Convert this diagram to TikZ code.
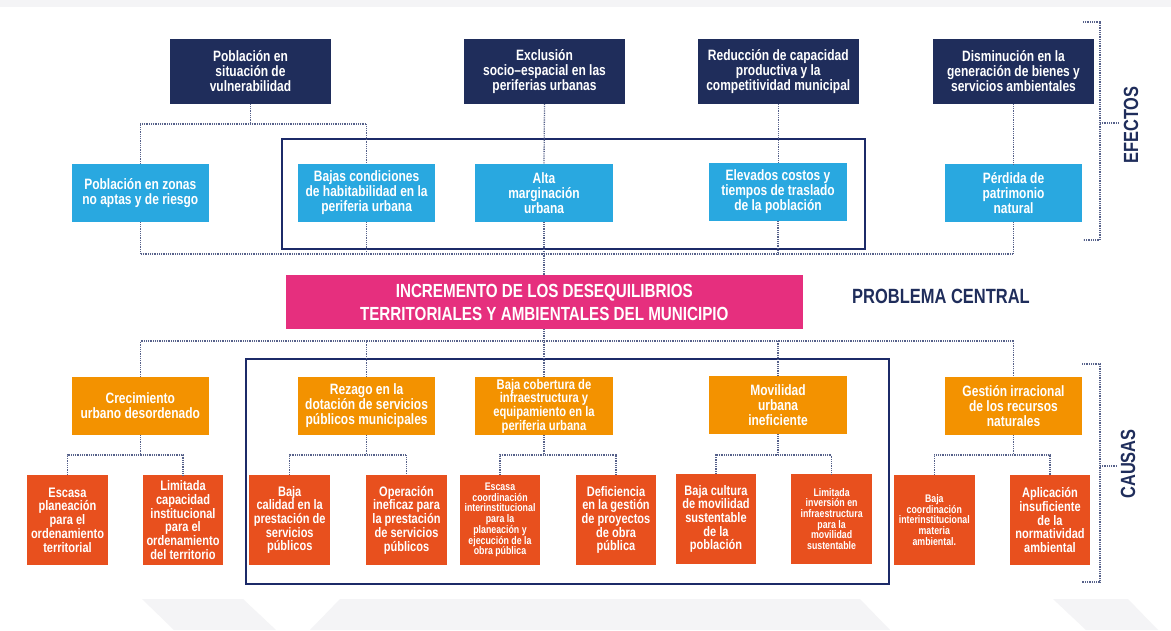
\documentclass[tikz,border=0pt]{standalone}
\usepackage{fontspec}
\setmainfont{Liberation Sans}[FakeStretch=0.8]
\definecolor{navy}{HTML}{1F2D5B}
\definecolor{lblue}{HTML}{29A8E0}
\definecolor{amber}{HTML}{F39200}
\definecolor{redor}{HTML}{E8501E}
\definecolor{pinkc}{HTML}{E62F7E}
\definecolor{framec}{HTML}{1C2A68}
\definecolor{dotc}{HTML}{56618A}
\definecolor{bgc}{HTML}{F4F4F6}
\begin{document}
\begin{tikzpicture}[x=1pt,y=-1pt,
  box/.style={rectangle, inner sep=0pt, align=center, text=white, font=\bfseries\fontsize{15}{15}\selectfont},
  navybox/.style={box, fill=navy, minimum width=161pt, minimum height=65pt},
  bluebox/.style={box, fill=lblue, minimum width=137.5pt, minimum height=58pt},
  ambbox/.style={box, fill=amber, minimum width=137.5pt, minimum height=58pt},
  redbox/.style={box, fill=redor, minimum width=80.5pt, minimum height=90pt, font=\bfseries\fontsize{13.8}{13.7}\selectfont},
  smallred/.style={redbox, font=\bfseries\fontsize{11}{10.7}\selectfont},
  conn/.style={draw=dotc, line width=1.3pt, dash pattern=on 0.9pt off 0.9pt},
  framebox/.style={draw=framec, line width=2.4pt},
  side/.style={text=navy, font=\bfseries\fontsize{20.5}{20.5}\selectfont},
]
\useasboundingbox (0,0) rectangle (1171,630);
\fill[white] (0,0) rectangle (1171,630);
\fill[bgc] (0,0) rectangle (1171,7);
\fill[bgc] (142,599) -- (243,599) -- (276,630) -- (174,630) -- cycle;
\fill[bgc] (340,599) -- (860,599) -- (890,630) -- (310,630) -- cycle;
\fill[bgc] (1053,599) -- (1128,599) -- (1158,630) -- (1086,630) -- cycle;

% frames
\draw[framebox] (282,139) rectangle (865,249);
\draw[framebox] (246,359) rectangle (889,584);

% effects
\node[navybox] (b1) at (250.5,71.5) {Población en\\situación de\\vulnerabilidad};
\node[navybox] (b2) at (544.5,71.5) {Exclusión\\socio–espacial en las\\periferias urbanas};
\node[navybox] (b3) at (778.3,71.5) {Reducción de capacidad\\productiva y la\\competitividad municipal};
\node[navybox] (b4) at (1013.5,71.5) {Disminución en la\\generación de bienes y\\servicios ambientales};

\node[bluebox] (l1) at (140.3,193) {Población en zonas\\no aptas y de riesgo};
\node[bluebox] (l2) at (366.6,193) {Bajas condiciones\\de habitabilidad en la\\periferia urbana};
\node[bluebox] (l3) at (544,193) {Alta\\marginación\\urbana};
\node[bluebox] (l4) at (778,192) {Elevados costos y\\tiempos de traslado\\de la población};
\node[bluebox] (l5) at (1013.5,193) {Pérdida de\\patrimonio\\natural};

% central problem
\node[box, fill=pinkc, minimum width=517.5pt, minimum height=54pt, font=\bfseries\fontsize{19}{23}\selectfont] (pc) at (544.3,302) {INCREMENTO DE LOS DESEQUILIBRIOS\\TERRITORIALES Y AMBIENTALES DEL MUNICIPIO};
\node[side, font=\bfseries\fontsize{20.6}{20.6}\selectfont] (plab) at (941,296) {PROBLEMA CENTRAL};

% causes
\node[ambbox] (o1) at (140.3,406) {Crecimiento\\urbano desordenado};
\node[ambbox] (o2) at (366.6,406) {Rezago en la\\dotación de servicios\\públicos municipales};
\node[ambbox, font=\bfseries\fontsize{14}{13.7}\selectfont] (o3) at (544,406) {Baja cobertura de\\infraestructura y\\equipamiento en la\\periferia urbana};
\node[ambbox] (o4) at (778,405) {Movilidad\\urbana\\ineficiente};
\node[ambbox] (o5) at (1013.5,406) {Gestión irracional\\de los recursos\\naturales};

\node[redbox] (r1) at (67.5,520) {Escasa\\planeación\\para el\\ordenamiento\\territorial};
\node[redbox] (r2) at (183,520) {Limitada\\capacidad\\institucional\\para el\\ordenamiento\\del territorio};
\node[redbox] (r3) at (289.7,520) {Baja\\calidad en la\\prestación de\\servicios\\públicos};
\node[redbox] (r4) at (406.5,520) {Operación\\ineficaz para\\la prestación\\de servicios\\públicos};
\node[smallred] (r5) at (500,520) {Escasa\\coordinación\\interinstitucional\\para la\\planeación y\\ejecución de la\\obra pública};
\node[redbox] (r6) at (616,520) {Deficiencia\\en la gestión\\de proyectos\\de obra\\pública};
\node[redbox] (r7) at (716,519) {Baja cultura\\de movilidad\\sustentable\\de la\\población};
\node[smallred] (r8) at (831.6,519) {Limitada\\inversión en\\infraestructura\\para la\\movilidad\\sustentable};
\node[smallred] (r9) at (934.3,520) {Baja\\coordinación\\interinstitucional\\materia\\ambiental.};
\node[redbox] (r10) at (1050,520) {Aplicación\\insuficiente\\de la\\normatividad\\ambiental};

% helper levels
\coordinate (et) at (0,124);
\coordinate (eb) at (0,254);
\coordinate (ct) at (0,341);
\coordinate (cb) at (0,455);

% effect connectors
\draw[conn] (b1.south) -- (b1.south |- et);
\draw[conn] (l1.north) -- (l1.north |- et) -- (l2.north |- et) -- (l2.north);
\draw[conn] (b2.south) -- (l3.north);
\draw[conn] (b3.south) -- (b3.south |- l4.north);
\draw[conn] (b4.south) -- (l5.north);
\draw[conn] (l1.south) -- (l1.south |- eb) -- (l5.south |- eb) -- (l5.south);
\draw[conn] (l2.south) -- (l2.south |- eb);
\draw[conn] (l3.south) -- (l3.south |- pc.north);
\draw[conn] (l4.south) -- (l4.south |- eb);

% cause connectors
\draw[conn] (pc.south -| o3.north) -- (o3.north);
\draw[conn] (o1.north) -- (o1.north |- ct) -- (o5.north |- ct) -- (o5.north);
\draw[conn] (o2.north) -- (o2.north |- ct);
\draw[conn] (o4.north) -- (o4.north |- ct);

\draw[conn] (o1.south) -- (o1.south |- cb);
\draw[conn] (r1.north) -- (r1.north |- cb) -- (r2.north |- cb) -- (r2.north);
\draw[conn] (o2.south) -- (o2.south |- cb);
\draw[conn] (r3.north) -- (r3.north |- cb) -- (r4.north |- cb) -- (r4.north);
\draw[conn] (o3.south) -- (o3.south |- cb);
\draw[conn] (r5.north) -- (r5.north |- cb) -- (r6.north |- cb) -- (r6.north);
\draw[conn] (o4.south) -- (o4.south |- cb);
\draw[conn] (r7.north) -- (r7.north |- cb) -- (r8.north |- cb) -- (r8.north);
\draw[conn] (o5.south) -- (o5.south |- cb);
\draw[conn] (r9.north) -- (r9.north |- cb) -- (r10.north |- cb) -- (r10.north);

% side brackets
\coordinate (ea) at (1083,22);
\coordinate (eb2) at (1100,22);
\coordinate (ec) at (1100,240);
\coordinate (ed) at (1083,240);
\coordinate (em) at (1100,123);
\coordinate (en) at (1119,123);
\draw[conn] (ea) -- (eb2) -- (ec) -- (ed);
\draw[conn] (em) -- (en);
\node[side, rotate=90] (efl) at (1131,125) {EFECTOS};

\coordinate (ca) at (1082,364);
\coordinate (cb2) at (1100,364);
\coordinate (cc) at (1100,582);
\coordinate (cd) at (1082,582);
\coordinate (cm) at (1100,466);
\coordinate (cn) at (1117,466);
\draw[conn] (ca) -- (cb2) -- (cc) -- (cd);
\draw[conn] (cm) -- (cn);
\node[side, rotate=90] (cal) at (1128,464) {CAUSAS};
\end{tikzpicture}
\end{document}
